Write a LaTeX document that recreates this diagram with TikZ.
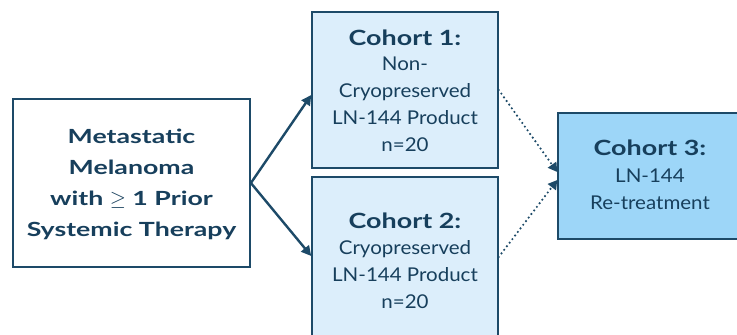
\documentclass[tikz,border=0pt]{standalone}
\usepackage{fontspec}
\setmainfont{Lato}
\newfontfamily\hdfont{Lato}[FakeStretch=1.28]
\newfontfamily\srcfont{Lato}[FakeStretch=1.37]
\newfontfamily\bdfont{Lato}[FakeStretch=1.08]
\usetikzlibrary{arrows.meta}
\definecolor{navy}{HTML}{1D4A68}
\definecolor{txt}{HTML}{173F5C}
\definecolor{lightb}{HTML}{DCEEFB}
\definecolor{midb}{HTML}{9DD6F8}
\tikzset{
  box/.style={draw=navy, line width=1.5pt, inner sep=0pt},
  lbl/.style={text=txt, align=center, inner sep=0pt, anchor=north},
  solidarr/.style={draw=navy, line width=2.4pt, -{Triangle[length=10pt,width=10pt]}},
  dotarr/.style={draw=navy, line width=2.4pt, line cap=round, dash pattern=on 0pt off 4.5pt, -{Triangle[length=9pt,width=10pt]}},
}
\newcommand{\hd}[1]{{\hdfont\bfseries\fontsize{21}{25}\selectfont #1}}
\begin{document}
\begin{tikzpicture}[x=1pt,y=-1pt]
\useasboundingbox (0,0) rectangle (737,335);
\clip (0,0) rectangle (737,335);
\fill[white] (0,0) rectangle (737,335);
\node[box, fill=white, line width=1.8pt, minimum width=237pt, minimum height=168pt] (src) at (131.5,183) {};
\node[box, fill=lightb, minimum width=186pt, minimum height=156pt] (c1) at (405,90) {};
\node[box, fill=lightb, minimum width=186pt, minimum height=160pt] (c2) at (405,257) {};
\node[box, fill=midb, minimum width=184pt, minimum height=126pt] (c3) at (650,176) {};
\node[lbl, font=\srcfont\bfseries\fontsize{19.5}{31}\selectfont] (srct) at (131.5,129) {Metastatic\\Melanoma\\with $\geq$ 1 Prior\\Systemic Therapy};
\node[lbl, font=\bdfont\fontsize{19}{27}\selectfont] (c1t) at (405,30) {\hd{Cohort 1:}\\[-2pt]Non-\\Cryopreserved\\LN-144 Product\\n=20};
\node[lbl, font=\bdfont\fontsize{19}{27}\selectfont] (c2t) at (405,213) {\hd{Cohort 2:}\\[-1pt]Cryopreserved\\LN-144 Product\\n=20};
\node[lbl, font=\bdfont\fontsize{19}{27}\selectfont] (c3t) at (650,140) {\hd{Cohort 3:}\\[-0pt]LN-144\\Re-treatment};
\coordinate (fork) at (src.east);
\draw[solidarr] (fork) -- (c1.west |- 0,95);
\draw[solidarr] (fork) -- (c2.west |- 0,256);
\draw[dotarr] (c1.east |- 0,90) -- (c3.west |- 0,172);
\draw[dotarr] (c2.east |- 0,257) -- (c3.west |- 0,180);
\end{tikzpicture}
\end{document}
